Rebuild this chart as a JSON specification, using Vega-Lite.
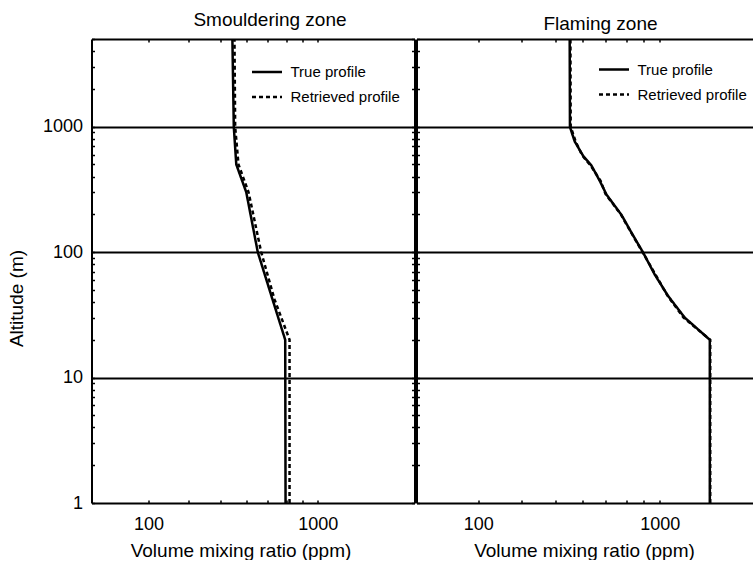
{
  "$schema": "https://vega.github.io/schema/vega-lite/v6.json",
  "padding": {"left": 7.5, "top": 11, "right": 0, "bottom": 0},
  "background": "white",
  "config": {
    "font": "Liberation Sans",
    "view": {"stroke": null},
    "axis": {
      "domainColor": "black", "domainWidth": 2, "tickColor": "black", "tickWidth": 1.5,
      "labelColor": "black", "titleColor": "black", "labelFontSize": 18, "titleFontSize": 19,
      "titleFontWeight": "normal", "labelFont": "Liberation Sans", "titleFont": "Liberation Sans",
      "labelOverlap": false, "labelFlush": false
    },
    "title": {"fontSize": 19, "fontWeight": "normal", "color": "black", "font": "Liberation Sans"},
    "legend": {"labelFont": "Liberation Sans", "labelFontSize": 15, "labelColor": "black"}
  },
  "datasets": {
    "profiles": [
      {"zone": "Smouldering", "profile": "True profile", "alt": 5000, "vmr": 313},
      {"zone": "Smouldering", "profile": "True profile", "alt": 1000, "vmr": 319},
      {"zone": "Smouldering", "profile": "True profile", "alt": 500, "vmr": 330},
      {"zone": "Smouldering", "profile": "True profile", "alt": 300, "vmr": 378},
      {"zone": "Smouldering", "profile": "True profile", "alt": 100, "vmr": 442},
      {"zone": "Smouldering", "profile": "True profile", "alt": 42, "vmr": 540},
      {"zone": "Smouldering", "profile": "True profile", "alt": 20, "vmr": 642},
      {"zone": "Smouldering", "profile": "True profile", "alt": 1, "vmr": 645},
      {"zone": "Smouldering", "profile": "Retrieved profile", "alt": 5000, "vmr": 322},
      {"zone": "Smouldering", "profile": "Retrieved profile", "alt": 1000, "vmr": 325},
      {"zone": "Smouldering", "profile": "Retrieved profile", "alt": 500, "vmr": 340},
      {"zone": "Smouldering", "profile": "Retrieved profile", "alt": 300, "vmr": 390},
      {"zone": "Smouldering", "profile": "Retrieved profile", "alt": 100, "vmr": 463},
      {"zone": "Smouldering", "profile": "Retrieved profile", "alt": 42, "vmr": 555},
      {"zone": "Smouldering", "profile": "Retrieved profile", "alt": 20, "vmr": 681},
      {"zone": "Smouldering", "profile": "Retrieved profile", "alt": 1, "vmr": 681},
      {"zone": "Flaming", "profile": "True profile", "alt": 5000, "vmr": 319},
      {"zone": "Flaming", "profile": "True profile", "alt": 1000, "vmr": 320},
      {"zone": "Flaming", "profile": "True profile", "alt": 916, "vmr": 326},
      {"zone": "Flaming", "profile": "True profile", "alt": 763, "vmr": 340},
      {"zone": "Flaming", "profile": "True profile", "alt": 586, "vmr": 378},
      {"zone": "Flaming", "profile": "True profile", "alt": 488, "vmr": 421},
      {"zone": "Flaming", "profile": "True profile", "alt": 370, "vmr": 467},
      {"zone": "Flaming", "profile": "True profile", "alt": 287, "vmr": 509},
      {"zone": "Flaming", "profile": "True profile", "alt": 198, "vmr": 615},
      {"zone": "Flaming", "profile": "True profile", "alt": 143, "vmr": 698},
      {"zone": "Flaming", "profile": "True profile", "alt": 99, "vmr": 810},
      {"zone": "Flaming", "profile": "True profile", "alt": 66, "vmr": 939},
      {"zone": "Flaming", "profile": "True profile", "alt": 44.6, "vmr": 1112},
      {"zone": "Flaming", "profile": "True profile", "alt": 30, "vmr": 1373},
      {"zone": "Flaming", "profile": "True profile", "alt": 20, "vmr": 1885},
      {"zone": "Flaming", "profile": "True profile", "alt": 1, "vmr": 1885},
      {"zone": "Flaming", "profile": "Retrieved profile", "alt": 5000, "vmr": 322},
      {"zone": "Flaming", "profile": "Retrieved profile", "alt": 1000, "vmr": 323},
      {"zone": "Flaming", "profile": "Retrieved profile", "alt": 900, "vmr": 331},
      {"zone": "Flaming", "profile": "Retrieved profile", "alt": 760, "vmr": 344},
      {"zone": "Flaming", "profile": "Retrieved profile", "alt": 590, "vmr": 374},
      {"zone": "Flaming", "profile": "Retrieved profile", "alt": 490, "vmr": 416},
      {"zone": "Flaming", "profile": "Retrieved profile", "alt": 370, "vmr": 472},
      {"zone": "Flaming", "profile": "Retrieved profile", "alt": 290, "vmr": 503},
      {"zone": "Flaming", "profile": "Retrieved profile", "alt": 200, "vmr": 610},
      {"zone": "Flaming", "profile": "Retrieved profile", "alt": 145, "vmr": 692},
      {"zone": "Flaming", "profile": "Retrieved profile", "alt": 100, "vmr": 803},
      {"zone": "Flaming", "profile": "Retrieved profile", "alt": 66, "vmr": 948},
      {"zone": "Flaming", "profile": "Retrieved profile", "alt": 45, "vmr": 1102},
      {"zone": "Flaming", "profile": "Retrieved profile", "alt": 30, "vmr": 1352},
      {"zone": "Flaming", "profile": "Retrieved profile", "alt": 20, "vmr": 1895},
      {"zone": "Flaming", "profile": "Retrieved profile", "alt": 1, "vmr": 1895}
    ]
  },
  "spacing": 0,
  "resolve": {
    "scale": {"x": "independent", "y": "independent", "strokeDash": "independent"},
    "legend": {"strokeDash": "independent"}
  },
  "hconcat": [
    {
      "width": 323,
      "height": 464,
      "title": {"text": "Smouldering zone", "dx": 17, "offset": -15, "baseline": "alphabetic", "frame": "group"},
      "data": {"name": "profiles"},
      "transform": [{"filter": "datum.zone === 'Smouldering'"}],
      "resolve": {"axis": {"x": "independent", "y": "independent"}},
      "layer": [
        {
          "transform": [{"filter": "datum.profile === 'True profile'"}],
          "mark": {"type": "line", "color": "black", "strokeWidth": 2.5},
          "encoding": {
            "x": {
              "field": "vmr", "type": "quantitative",
              "scale": {"type": "log", "domain": [46.07, 3725], "nice": false},
              "axis": {
                "orient": "bottom",
                "values": [100, 173, 266, 377, 502, 653, 812, 1000],
                "labelExpr": "datum.value === 100 || datum.value === 1000 ? datum.value + '' : ''",
                "tickSize": -3,
                "labelPadding": 29,
                "labelBaseline": "alphabetic",
                "grid": false,
                "title": "Volume mixing ratio (ppm)",
                "titleX": 149, "titleY": 53, "titleBaseline": "alphabetic"
              }
            },
            "y": {
              "field": "alt", "type": "quantitative",
              "scale": {"type": "log", "domain": [1, 5000], "nice": false},
              "axis": {
                "orient": "left",
                "values": [1,2,3,4,5,6,7,8,9,10,20,30,40,50,60,70,80,90,100,200,300,400,500,600,700,800,900,1000,2000,3000,4000,5000],
                "labelExpr": "datum.value === 1 || datum.value === 10 || datum.value === 100 || datum.value === 1000 ? datum.value + '' : ''",
                "tickSize": -3,
                "labelPadding": 12,
                "grid": true, "gridColor": "black", "gridWidth": 2,
                "gridOpacity": {"condition": {"test": "datum.value === 10 || datum.value === 100 || datum.value === 1000", "value": 1}, "value": 0},
                "title": "Altitude (m)",
                "titleX": -75, "titleY": 259, "titleAngle": -90, "titleAlign": "center", "titleBaseline": "middle"
              }
            },
            "order": {"field": "alt", "type": "quantitative"},
            "strokeDash": {
              "field": "profile", "type": "nominal",
              "scale": {"domain": ["True profile", "Retrieved profile"], "range": [[1, 0], [4, 3]]},
              "legend": {"title": null, "orient": "none", "legendX": 159, "legendY": 16.5, "symbolType": "stroke", "symbolSize": 900, "symbolStrokeWidth": 2.5, "symbolStrokeColor": "black", "labelOffset": 7, "rowPadding": -6, "padding": 0}
            }
          }
        },
        {
          "transform": [{"filter": "datum.profile === 'Retrieved profile'"}],
          "mark": {"type": "line", "color": "black", "strokeWidth": 2.5},
          "encoding": {
            "x": {
              "field": "vmr", "type": "quantitative",
              "axis": {"orient": "top", "values": [100, 173, 266, 377, 502, 653, 812, 1000], "labels": false, "tickSize": -3, "grid": false, "title": null}
            },
            "y": {
              "field": "alt", "type": "quantitative",
              "axis": {"orient": "right", "values": [1,2,3,4,5,6,7,8,9,10,20,30,40,50,60,70,80,90,100,200,300,400,500,600,700,800,900,1000,2000,3000,4000,5000], "labels": false, "tickSize": -3, "grid": false, "title": null}
            },
            "order": {"field": "alt", "type": "quantitative"},
            "strokeDash": {
              "field": "profile", "type": "nominal",
              "scale": {"domain": ["True profile", "Retrieved profile"], "range": [[1, 0], [4, 3]]},
              "legend": {"title": null, "orient": "none", "legendX": 159, "legendY": 16.5, "symbolType": "stroke", "symbolSize": 900, "symbolStrokeWidth": 2.5, "symbolStrokeColor": "black", "labelOffset": 7, "rowPadding": -6, "padding": 0}
            }
          }
        }
      ]
    },
    {
      "width": 338,
      "height": 464,
      "title": {"text": "Flaming zone", "dx": 15, "offset": -15, "baseline": "alphabetic", "frame": "group"},
      "data": {"name": "profiles"},
      "transform": [{"filter": "datum.zone === 'Flaming'"}],
      "resolve": {"axis": {"x": "independent", "y": "independent"}},
      "layer": [
        {
          "transform": [{"filter": "datum.profile === 'True profile'"}],
          "mark": {"type": "line", "color": "black", "strokeWidth": 2.5},
          "encoding": {
            "x": {
              "field": "vmr", "type": "quantitative",
              "scale": {"type": "log", "domain": [45.74, 3322], "nice": false},
              "axis": {
                "orient": "bottom",
                "values": [100, 173, 266, 377, 502, 653, 812, 1000],
                "labelExpr": "datum.value === 100 || datum.value === 1000 ? datum.value + '' : ''",
                "tickSize": -3,
                "labelPadding": 29,
                "labelBaseline": "alphabetic",
                "grid": false,
                "title": "Volume mixing ratio (ppm)",
                "titleX": 167.5, "titleY": 53, "titleBaseline": "alphabetic"
              }
            },
            "y": {
              "field": "alt", "type": "quantitative",
              "scale": {"type": "log", "domain": [1, 5000], "nice": false},
              "axis": {
                "orient": "left",
                "values": [1,2,3,4,5,6,7,8,9,10,20,30,40,50,60,70,80,90,100,200,300,400,500,600,700,800,900,1000,2000,3000,4000,5000],
                "labels": false,
                "tickSize": -3,
                "grid": true, "gridColor": "black", "gridWidth": 2,
                "gridOpacity": {"condition": {"test": "datum.value === 10 || datum.value === 100 || datum.value === 1000", "value": 1}, "value": 0},
                "title": null
              }
            },
            "order": {"field": "alt", "type": "quantitative"},
            "strokeDash": {
              "field": "profile", "type": "nominal",
              "scale": {"domain": ["True profile", "Retrieved profile"], "range": [[1, 0], [4, 3]]},
              "legend": {"title": null, "orient": "none", "legendX": 181, "legendY": 14, "symbolType": "stroke", "symbolSize": 900, "symbolStrokeWidth": 2.5, "symbolStrokeColor": "black", "labelOffset": 7, "rowPadding": -8, "padding": 0}
            }
          }
        },
        {
          "transform": [{"filter": "datum.profile === 'Retrieved profile'"}],
          "mark": {"type": "line", "color": "black", "strokeWidth": 2.5},
          "encoding": {
            "x": {
              "field": "vmr", "type": "quantitative",
              "axis": {"orient": "top", "values": [100, 173, 266, 377, 502, 653, 812, 1000], "labels": false, "tickSize": -3, "grid": false, "title": null}
            },
            "y": {
              "field": "alt", "type": "quantitative",
              "axis": null
            },
            "order": {"field": "alt", "type": "quantitative"},
            "strokeDash": {
              "field": "profile", "type": "nominal",
              "scale": {"domain": ["True profile", "Retrieved profile"], "range": [[1, 0], [4, 3]]},
              "legend": {"title": null, "orient": "none", "legendX": 181, "legendY": 14, "symbolType": "stroke", "symbolSize": 900, "symbolStrokeWidth": 2.5, "symbolStrokeColor": "black", "labelOffset": 7, "rowPadding": -8, "padding": 0}
            }
          }
        }
      ]
    }
  ]
}
